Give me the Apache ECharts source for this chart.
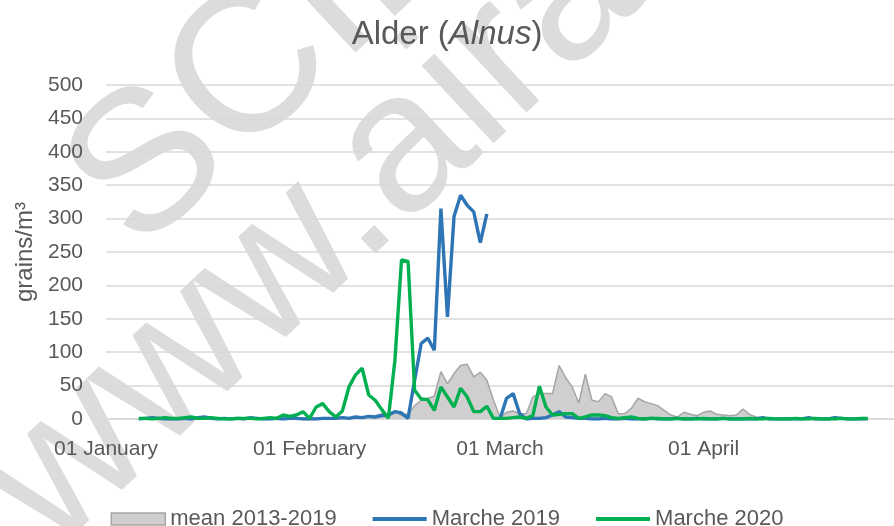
<!DOCTYPE html>
<html><head><meta charset="utf-8">
<script src="https://cdn.jsdelivr.net/npm/echarts@6/dist/echarts.min.js"></script>
<style>html,body{margin:0;padding:0;background:#fff}#c{width:894px;height:526px}</style>
</head><body><div id="c"></div>
<script>
// Daily categories: 01 Jan 2020 .. 30 Apr 2020
const dayCount = 121;
const categories = [];
for (let i = 0; i < dayCount; i++) {
  const d = new Date(Date.UTC(2020, 0, 1 + i));
  categories.push(d.toISOString().slice(0, 10));
}
const tickDates = ['2020-01-01', '2020-02-01', '2020-03-01', '2020-04-01'];
const tickLabels = ['01 January', '01 February', '01 March', '01 April'];
const yTicks = [0, 50, 100, 150, 200, 250, 300, 350, 400, 450, 500];

const seriesNames = ['mean 2013-2019', 'Marche 2019', 'Marche 2020'];

const mean2013_2019 = [
  null, null, null, null, null,
  0,0,1,0,0, 0,1,0,0,0, 0,1,0,0,0, 1,0,0,1,0, 0,1,1,0,1, 1,2,1,1,2, 2,3,2,3,2,
  3,5,8,6,13, 5,8,20,28,31, 34,71,53,68,80, 82,63,70,58,28,
  3,10,12,8,8, 33,38,38,38,80, 62,48,24,67,28, 26,38,33,8,8,
  16,31,26,23,20, 13,6,3,10,7, 5,10,12,7,6, 5,6,15,7,3, 1,
  1,0,0,1,0, 0,0,1,0,0, 0,1,0,0,0, 0,
  null, null, null, null
];

const marche2019 = [
  null, null, null, null, null,
  0,1,2,1,0, 0,0,1,0,2, 3,1,0,1,0, 1,0,2,1,0, 0,1,0,1,1, 0,0,0,1,1, 1,2,1,
  3,2,4,3,5, 6,11,9,1,58, 113,121,103,315,153, 303,335,320,310,264, 307,
  null,
  0,31,38,8,0, 1,1,2,6,11, 3,2,1,1,0,
  0,1,0,0,1,0,0,0,1,0, 0,0,1,0,0,1,0,0,0,1, 0,0,0,0,0,2,0,0,0,0, 0,0,2,0,0,0,2,1,0,0, 0,0,
  null, null, null, null
];

const marche2020 = [
  null, null, null, null, null,
  1,1,0,1,2, 1,1,2,3,1, 1,2,1,0,0, 1,1,1,0,1, 2,1,
  6,4,6,11,1, 18,23,11,3,12, 48,66,76,36,28, 14,1,88,238,236,
  43,30,29,13,48, 33,18,46,33,11, 11,19,1,1,1, 2,3,1,5,49,
  18,6,7,8,8, 1,3,6,6,5, 2,1,2,3,
  1,0,1,1,0,0,1,0,0,0, 1,0,0,1,0,0,0,1,0,0, 1,0,0,0,1,0,0,1,0,0, 0,1,0,0,1,1,
  null, null, null, null
];

const FONT = '"Liberation Sans", Arial, sans-serif';
const TXT = '#595959';
const GRID = '#d9d9d9';
const LINE_ICON = 'path://M0,0L54,0L54,4L0,4Z';

const chart = echarts.init(document.getElementById('c'), null, { renderer: 'canvas' });
chart.setOption({
  animation: false,
  backgroundColor: '#ffffff',
  title: {
    text: '{a|Alder (}{b|Alnus}{a|)}',
    left: 'center',
    top: 13,
    textStyle: {
      fontWeight: 'normal',
      rich: {
        a: { fontSize: 33, color: TXT, fontFamily: FONT, fontWeight: 'normal' },
        b: { fontSize: 33, color: TXT, fontFamily: FONT, fontWeight: 'normal', fontStyle: 'italic' }
      }
    }
  },
  graphic: [
    {
      type: 'text', z: -10, x: 272, y: 55, rotation: 43 * Math.PI / 180,
      style: { text: 'SCIE', font: '200px "Liberation Sans", Arial, sans-serif', fill: '#dcdcdc',
        align: 'center', verticalAlign: 'middle', textAlign: 'center', textVerticalAlign: 'middle' }
    },
    {
      type: 'text', z: -10, x: 312, y: 237, rotation: 43 * Math.PI / 180,
      style: { text: 'www.aira', font: '200px "Liberation Sans", Arial, sans-serif', fill: '#dcdcdc',
        align: 'center', verticalAlign: 'middle', textAlign: 'center', textVerticalAlign: 'middle' }
    }
  ],
  grid: { left: 106, right: -7, top: 85, bottom: 107, containLabel: false },
  legend: {
    data: [
      { name: seriesNames[0], icon: 'rect', itemStyle: { color: '#d0cece', borderColor: '#a5a5a5', borderWidth: 1.5 } },
      { name: seriesNames[1], icon: LINE_ICON },
      { name: seriesNames[2], icon: LINE_ICON }
    ],
    left: 'center',
    top: 503,
    itemWidth: 54,
    itemHeight: 12,
    itemGap: 36,
    symbolKeepAspect: true,
    textStyle: { fontSize: 22, color: TXT, fontFamily: FONT }
  },
  xAxis: {
    type: 'category',
    data: categories,
    boundaryGap: false,
    axisLine: { lineStyle: { color: GRID, width: 1.5 } },
    axisTick: { show: false },
    axisLabel: {
      interval: function (idx, val) { return tickDates.indexOf(val) >= 0; },
      formatter: function (val) { const k = tickDates.indexOf(val); return k >= 0 ? tickLabels[k] : ''; },
      fontSize: 21, color: TXT, fontFamily: FONT, margin: 20
    },
    splitLine: { show: false }
  },
  yAxis: {
    type: 'value',
    min: yTicks[0], max: yTicks[yTicks.length - 1], interval: 50,
    name: 'grains/m³',
    nameLocation: 'middle',
    nameGap: 66,
    nameTextStyle: { fontSize: 24, color: TXT, fontFamily: FONT },
    axisLine: { show: false },
    axisTick: { show: false },
    axisLabel: { fontSize: 21, color: TXT, fontFamily: FONT, margin: 23 },
    splitLine: { lineStyle: { color: GRID, width: 1.5 } }
  },
  series: [
    {
      name: seriesNames[0], type: 'line', data: mean2013_2019,
      symbol: 'none', connectNulls: false,
      lineStyle: { color: '#a5a5a5', width: 1.5 },
      itemStyle: { color: '#d0cece' },
      areaStyle: { color: '#d0cece', opacity: 1 },
      z: 2
    },
    {
      name: seriesNames[1], type: 'line', data: marche2019,
      symbol: 'none', connectNulls: false,
      lineStyle: { color: '#2e75b6', width: 3.4 },
      itemStyle: { color: '#2e75b6' },
      z: 3
    },
    {
      name: seriesNames[2], type: 'line', data: marche2020,
      symbol: 'none', connectNulls: false,
      lineStyle: { color: '#00b050', width: 3.4 },
      itemStyle: { color: '#00b050' },
      z: 4
    }
  ]
});
</script>
</body></html>
